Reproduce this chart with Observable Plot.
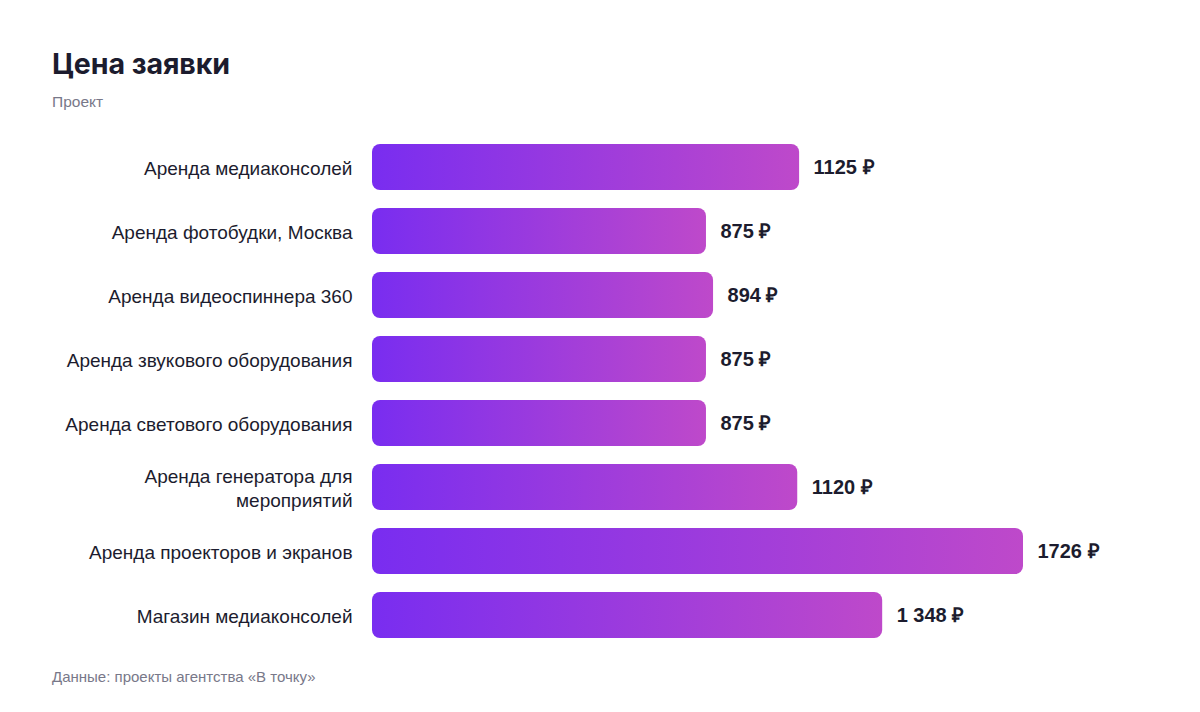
<!DOCTYPE html>
<html>
<head>
<meta charset="utf-8">
<script src="https://cdn.jsdelivr.net/npm/d3@7"></script>
<script src="https://cdn.jsdelivr.net/npm/@observablehq/plot@0.6"></script>
<style>
  html, body { margin: 0; padding: 0; background: #ffffff; }
  body { width: 1200px; height: 712px; position: relative; overflow: hidden; font-family: "Liberation Sans", Arial, sans-serif; }
  #title { position: absolute; left: 52px; top: 47px; font-family: Inter, "Liberation Sans", sans-serif; font-weight: 700; font-size: 28.6px; line-height: 34px; color: #1c1c2e; letter-spacing: -0.1px; }
  #subtitle { position: absolute; left: 52px; top: 93px; font-size: 15.5px; line-height: 17px; color: #787889; }
  #chart { position: absolute; left: 0; top: 120px; }
  #caption { position: absolute; left: 52px; top: 668px; font-size: 15px; line-height: 17px; color: #787889; }
</style>
</head>
<body>
<div id="title">Цена заявки</div>
<div id="subtitle">Проект</div>
<div id="chart"></div>
<div id="caption">Данные: проекты агентства «В точку»</div>
<script>
const categories = [
  "Аренда медиаконсолей",
  "Аренда фотобудки, Москва",
  "Аренда видеоспиннера 360",
  "Аренда звукового оборудования",
  "Аренда светового оборудования",
  "Аренда генератора для\nмероприятий",
  "Аренда проекторов и экранов",
  "Магазин медиаконсолей"
];
const values = [1125, 875, 894, 875, 875, 1120, 1726, 1348];
const valueLabels = ["1125 ₽", "875 ₽", "894 ₽", "875 ₽", "875 ₽", "1120 ₽", "1726 ₽", "1 348 ₽"];

const data = categories.map((c, i) => ({category: c, value: values[i], label: valueLabels[i]}));

const gradientDefs = () => {
  const defs = d3.create("svg:defs");
  const g = defs.append("linearGradient").attr("id", "barGrad")
    .attr("x1", "0%").attr("x2", "100%").attr("y1", "0%").attr("y2", "0%");
  g.append("stop").attr("offset", "0%").attr("stop-color", "#792DF0");
  g.append("stop").attr("offset", "100%").attr("stop-color", "#BE49CA");
  return defs.node();
};

const chart = Plot.plot({
  width: 1200,
  height: 545,
  marginLeft: 380,
  marginRight: 177,
  marginTop: 5,
  marginBottom: 8,
  style: {fontFamily: "'Liberation Sans', Arial, sans-serif", background: "transparent"},
  x: {domain: [0, 1726], axis: null},
  y: {domain: categories, padding: 0.285, axis: null},
  marks: [
    gradientDefs,
    Plot.barX(data, {y: "category", x1: 0, x2: "value", fill: "url(#barGrad)", rx: 8, insetLeft: -8}),
    Plot.text(data, {y: "category", frameAnchor: "left", dx: -28, text: "category", textAnchor: "end", fontSize: 19, lineHeight: 1.26, fill: "#1c1c2e"}),
    Plot.text(data, {y: "category", x: "value", dx: 14, text: "label", textAnchor: "start", fontSize: 20, fontWeight: 700, fill: "#1c1c2e"})
  ]
});
document.getElementById("chart").appendChild(chart);
</script>
</body>
</html>
